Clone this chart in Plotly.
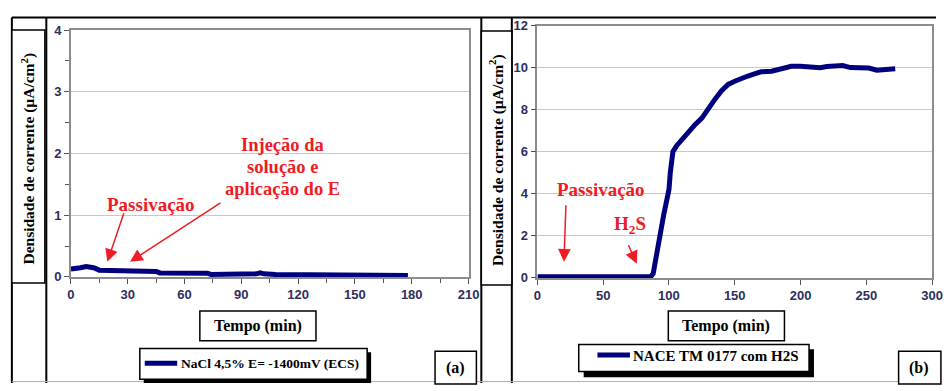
import plotly.graph_objects as go

W, H = 947, 391

# ---------------- data ----------------
name_a = "NaCl 4,5% E= -1400mV (ECS)"
t_a = [0, 2, 5, 8, 10, 12, 15, 20, 25, 30, 33, 38, 45, 47, 55, 65, 72, 74, 80, 90, 96, 98, 100, 102,
       108, 115, 122, 124, 126, 131, 133, 138, 140, 143, 145, 150, 160, 170, 178]
j_a = [0.13, 0.13, 0.15, 0.17, 0.17, 0.15, 0.11, 0.11, 0.11, 0.11, 0.09, 0.09, 0.09, 0.065, 0.065, 0.06, 0.06,
       0.04, 0.04, 0.04, 0.04, 0.05, 0.065, 0.05, 0.04, 0.04, 0.035, 0.045, 0.035, 0.045, 0.035, 0.045,
       0.035, 0.045, 0.035, 0.035, 0.03, 0.03, 0.025]

name_b = "NACE TM 0177 com H2S"
t_b = [0, 20, 40, 60, 80, 86, 88, 90, 92, 94, 96, 98, 100, 101, 102, 103, 106, 110, 115, 120, 125, 130,
       135, 140, 145, 150, 155, 160, 165, 170, 178, 185, 193, 200, 210, 215, 220, 228, 232, 238, 245,
       252, 258, 265, 272]
j_b = [0.05, 0.05, 0.05, 0.05, 0.05, 0.05, 0.2, 0.9, 1.8, 2.6, 3.0, 3.6, 4.2, 5.0, 5.6, 6.0, 6.3, 6.6,
       7.0, 7.3, 7.6, 8.1, 8.5, 8.9, 9.2, 9.35, 9.5, 9.6, 9.7, 9.8, 9.83, 9.95, 10.06, 10.07, 10.05,
       10.0, 10.05, 10.08, 10.1, 10.0, 10.0, 9.98, 9.88, 9.9, 9.95]

xticks_a = [0, 30, 60, 90, 120, 150, 180, 210]
yticks_a = [0, 1, 2, 3, 4]
xticks_b = [0, 50, 100, 150, 200, 250, 300]
yticks_b = [0, 2, 4, 6, 8, 10, 12]

ytitle = "Densidade de corrente (µA/cm<sup>2</sup>)"
xtitle = "Tempo (min)"

# ---------------- styles ----------------
NAVY = "#00007f"
RED = "#ee1c25"
SERIF = "Liberation Serif, Times New Roman, Times, serif"
SANS = "Liberation Sans, Arial, Helvetica, sans-serif"
TICKCOL = "#2e2e5c"


def px(x):
    return x / W


def py(y):
    return 1 - y / H


fig = go.Figure()
fig.add_trace(go.Scatter(x=t_a, y=j_a, mode="lines", name=name_a,
                         line=dict(color=NAVY, width=5), xaxis="x", yaxis="y", showlegend=False))
fig.add_trace(go.Scatter(x=t_b, y=j_b, mode="lines", name=name_b,
                         line=dict(color=NAVY, width=5), xaxis="x2", yaxis="y2", showlegend=False))

axis_common = dict(showline=True, linecolor="#8c8c8c", linewidth=1.5, mirror=True,
                   ticks="outside", ticklen=5, tickcolor="#555555", tickwidth=1,
                   tickfont=dict(family=SANS, size=13, color=TICKCOL, weight="bold"),
                   zeroline=False, fixedrange=True)

fig.update_layout(
    width=W, height=H, margin=dict(l=0, r=0, t=0, b=0),
    paper_bgcolor="white", plot_bgcolor="white", showlegend=False,
    font=dict(family=SERIF),
    xaxis=dict(domain=[px(68), px(472)], range=[0, 210], tickvals=xticks_a, showgrid=False,
               minor=dict(dtick=15, ticks="outside", ticklen=4, tickcolor="#555555"),
               anchor="y", **axis_common),
    yaxis=dict(domain=[py(280.7), py(24)], range=[0, 4], tickvals=yticks_a, showgrid=True,
               gridcolor="#c8c8c8", gridwidth=1.2,
               minor=dict(dtick=0.5, ticks="outside", ticklen=4, tickcolor="#555555"),
               anchor="x", **axis_common),
    xaxis2=dict(domain=[px(542), px(943)], range=[0, 300], tickvals=xticks_b, showgrid=False,
                anchor="y2", **axis_common),
    yaxis2=dict(domain=[py(281.7), py(19.3)], range=[0, 12], tickvals=yticks_b, showgrid=True,
                gridcolor="#c8c8c8", gridwidth=1.2, anchor="x2", **axis_common),
)

shapes = []


def line(x0, y0, x1, y1, color="black", width=2):
    shapes.append(dict(type="line", xref="paper", yref="paper", x0=px(x0), y0=py(y0),
                       x1=px(x1), y1=py(y1), line=dict(color=color, width=width)))


def rect(x0, y0, x1, y1, fill="white", color="black", width=1.5):
    shapes.append(dict(type="rect", xref="paper", yref="paper", x0=px(x0), y0=py(y0),
                       x1=px(x1), y1=py(y1), fillcolor=fill, line=dict(color=color, width=width),
                       layer="above"))


# frame / table lines
line(8, 11, 947, 11)
line(8, 11, 8, 391)
line(43, 11, 43, 391)
line(485, 11, 485, 391)
line(516, 11, 516, 391)
line(8, 389.5, 947, 389.5, color="#b0b0b0", width=1)

# y title boxes
rect(8, 24, 41.5, 287)
rect(485, 25, 516, 289)

# x title boxes
rect(199, 316, 317, 347)
rect(675, 316, 793, 347)

# legend boxes with shadows
rect(142, 359, 373, 391, fill="black", color="black", width=0)
rect(138, 355, 369, 387)
rect(589, 356, 823, 385, fill="black", color="black", width=0)
rect(584, 351, 818, 379)
line(143, 370.5, 176, 370.5, color=NAVY, width=5)
line(603, 362, 636, 362, color=NAVY, width=5)

# panel label boxes
rect(438, 358, 480, 392)
rect(909, 358, 952, 392)

annotations = []


def text(x, y, s, size, color="black", family=SERIF, xanchor="center", angle=0):
    annotations.append(dict(xref="paper", yref="paper", x=px(x), y=py(y), text=s, showarrow=False,
                            xanchor=xanchor, yanchor="middle", textangle=angle,
                            font=dict(family=family, size=size, color=color, weight="bold")))


def arrow(x, y, ax, ay):
    annotations.append(dict(xref="paper", yref="paper", x=px(x), y=py(y), ax=ax, ay=ay, text="",
                            showarrow=True, arrowhead=2, arrowsize=1.7, arrowwidth=1.5,
                            arrowcolor=RED, standoff=0))


text(25, 158, ytitle, 15.5, angle=-90)
text(501, 159, ytitle, 15.5, angle=-90)
text(258, 332, xtitle, 16)
text(734, 332, xtitle, 16)
text(178, 371, name_a, 13.5, xanchor="left")
text(637, 363, name_b, 15, xanchor="left")
text(459, 375, "(a)", 16)
text(930, 375, "(b)", 16)

# annotations panel (a)
text(149, 205, "Passivação", 19, color=RED)
text(283, 144, "Injeção da", 18.5, color=RED)
text(283, 166, "solução e", 18.5, color=RED)
text(283, 189, "aplicação do E", 18.5, color=RED)
arrow(105, 265, 17, -50)
arrow(128, 265, 92, -60)

# annotations panel (b)
text(607, 190, "Passivação", 19, color=RED)
text(636, 227, "H<sub>2</sub>S", 19, color=RED)
arrow(569, 265, 2, -58)
arrow(643, 267, -9, -20)

fig.update_layout(shapes=shapes, annotations=annotations)
fig.write_html("out.html")
